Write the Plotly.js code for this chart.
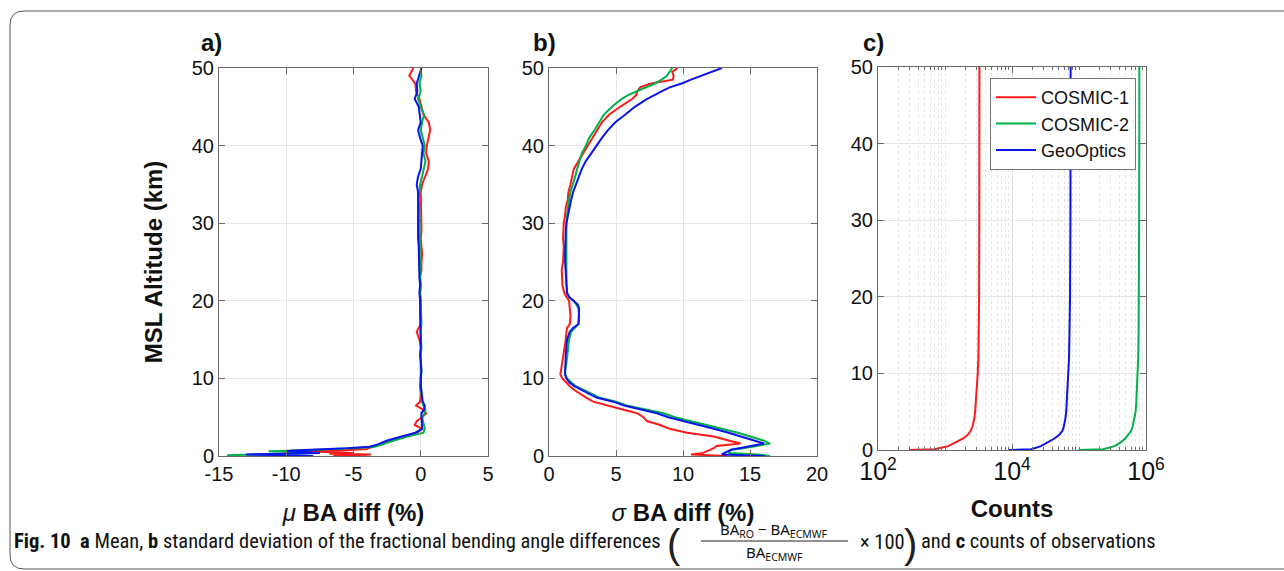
<!DOCTYPE html>
<html>
<head>
<meta charset="utf-8">
<script src="https://cdn.plot.ly/plotly-3.0.1.min.js"></script>
<style>html,body{margin:0;padding:0;background:#fff;}#chart{width:1284px;height:571px;}</style>
</head>
<body>
<div id="chart"></div>
<script>
// ---------- Panel a: mean fractional BA difference (%) ----------
const altA = [0,0.1,0.2,0.3,0.4,0.5,0.6,0.7,0.8,0.9,1.0,1.2,1.5,2,2.5,3,3.5,4,4.5,5,5.5,6,6.5,7,8,9,10,
  11,12,13,14,15,16,17,18,19,20,21,22,23,24,25,26,27,28,29,30,31,32,33,34,35,36,37,38,39,40,41,42,43,44,45,46,47,48,49,50];
const meanC1 = [-4.0,-6.5,-3.7,-6.8,-5.0,-7.8,-8.5,-6.0,-4.5,-4.0,-3.9,-3.5,-3.0,-2.3,-1.2,-0.3,0.1,-0.45,-0.3,0.1,0.4,0.15,-0.35,-0.05,0.0,-0.05,0.0,
  0.0,-0.05,0.0,0.02,-0.1,-0.3,0.0,-0.05,0.0,0.0,-0.05,0.0,-0.05,0.05,0.05,0.1,0.05,0.0,0.05,0.05,0.05,0.0,0.05,0.0,0.1,0.3,0.55,0.6,0.4,0.45,0.55,0.7,0.6,0.2,0.05,-0.1,-0.35,-0.4,-0.85,-0.55];
const meanC2 = [-13.0,-14.4,-12.0,-10.0,-8.0,-9.5,-11.3,-9.0,-7.5,-6.0,-5.0,-3.4,-2.9,-2.0,-1.0,0.2,0.3,0.25,0.15,0.1,0.3,0.35,0.2,0.1,0.05,0.0,0.0,
  0.05,0.0,0.0,0.05,0.0,0.0,0.05,0.05,0.0,0.0,-0.05,0.0,-0.05,-0.05,-0.1,-0.05,-0.1,-0.1,-0.1,-0.1,-0.1,-0.1,-0.15,-0.1,-0.05,0.1,0.2,0.35,0.2,0.3,0.15,0.0,0.1,0.25,0.0,-0.2,0.0,-0.1,0.05,0.0];
const meanGO = [-8.0,-10.0,-13.0,-10.5,-7.5,-8.5,-10.0,-9.5,-8.0,-6.5,-5.5,-3.8,-3.2,-2.5,-1.5,-0.4,0.1,0.1,0.05,0.1,0.05,0.25,0.3,0.15,0.05,0.0,0.0,
  0.05,0.0,-0.05,0.0,0.0,-0.05,-0.05,0.0,-0.05,-0.05,-0.1,-0.05,-0.1,-0.1,-0.15,-0.1,-0.15,-0.2,-0.2,-0.25,-0.2,-0.2,-0.25,-0.2,-0.3,-0.2,0.0,0.05,0.15,0.15,-0.05,-0.2,0.0,-0.1,-0.15,-0.45,-0.25,-0.3,-0.15,0.05];

// ---------- Panel b: standard deviation (%) ----------
const altB = [0,0.2,0.4,0.6,0.8,1.0,1.3,1.6,2,2.5,3,3.5,4,4.5,5,5.5,6,6.5,7,7.5,8,8.5,9,9.5,10,10.5,
  11,12,13,14,15,16,16.5,17,18,19,19.5,20,20.5,21,22,23,24,25,26,27,28,29,30,31,32,33,34,35,36,37,38,39,40,41,42,43,44,45,46,46.5,47,47.5,48,48.5,49,49.5,50];
const sdC1 = [13.3,10.6,11.5,11.8,12.0,12.3,12.5,14.3,13.4,12.3,10.3,9.0,8.3,7.3,7.05,6.6,5.5,4.3,3.3,2.8,2.3,1.9,1.55,1.25,1.0,0.85,
  0.9,1.0,1.1,1.2,1.25,1.3,1.35,1.55,1.6,1.55,1.55,1.5,1.3,1.15,1.0,1.0,0.95,1.05,1.1,1.1,1.05,1.05,1.1,1.2,1.25,1.4,1.45,1.6,1.7,1.85,2.2,2.55,2.85,3.2,3.55,3.95,4.5,5.3,6.2,6.5,6.6,6.8,7.6,9.25,9.3,9.2,9.6];
const sdC2 = [16.5,15.6,13.4,13.5,13.6,14.5,15.6,16.5,16.0,15.1,14.1,12.9,11.8,10.5,9.4,8.55,7.2,5.8,5.0,3.8,3.2,2.6,2.0,1.65,1.35,1.2,
  1.2,1.3,1.35,1.4,1.5,1.65,1.9,2.2,2.25,2.2,2.05,1.85,1.5,1.35,1.3,1.3,1.3,1.3,1.25,1.25,1.25,1.3,1.3,1.35,1.4,1.5,1.6,1.8,1.95,2.1,2.3,2.45,2.75,3.0,3.4,3.75,4.1,4.7,5.4,5.9,6.6,7.2,7.9,8.4,8.8,9.0,9.2];
const sdGO = [16.1,12.9,13.1,13.3,13.6,14.2,15.0,16.05,15.3,14.4,13.4,12.3,11.1,10.0,8.9,8.05,6.9,5.6,4.8,3.6,3.0,2.4,1.9,1.5,1.3,1.2,
  1.2,1.2,1.25,1.3,1.35,1.55,1.8,2.2,2.25,2.25,2.15,1.85,1.5,1.35,1.3,1.25,1.2,1.2,1.2,1.2,1.2,1.25,1.3,1.4,1.5,1.65,1.8,2.0,2.2,2.45,2.75,3.15,3.5,3.95,4.4,4.95,5.7,6.4,7.3,7.8,8.4,9.0,9.9,10.6,11.4,12.1,12.9];

// ---------- Panel c: counts ----------
const altC = [0,0.1,0.5,1,1.5,2,2.5,3,3.5,4,5,6,7,8,10,12,15,20,30,40,50];
const cntC1 = [290,700,1120,1450,1870,2200,2420,2560,2650,2720,2820,2880,2930,2980,3080,3150,3200,3230,3250,3250,3260];
const cntC2 = [98000,230000,340000,420000,490000,550000,600000,630000,650000,670000,700000,715000,725000,735000,752000,765000,775000,785000,790000,794000,795000];
const cntGO = [9000,19500,27000,35000,43000,51000,56500,59000,61000,62500,64500,65500,66500,67500,69500,71000,72000,73500,74500,75000,75000];

const seriesNames = ['COSMIC-1','COSMIC-2','GeoOptics'];
const seriesColors = ['#ff1a1a','#00b04a','#0a14e6'];
const ticksA = [-15,-10,-5,0,5];
const ticksALabels = ['-15','-10','-5','0','5'];
const ticksB = [0,5,10,15,20];
const ticksAlt = [0,10,20,30,40,50];

const W = 1284, H = 571;
const px = x => x / W;
const py = y => 1 - y / H;

const SANS = "'Liberation Sans', Arial, Helvetica, sans-serif";
const CAP = "'Roboto Condensed', 'Liberation Sans Narrow', 'Open Sans', sans-serif";
const tickFont = {family: SANS, size: 20, color: '#111'};
const titleFont = {family: SANS, size: 24, color: '#111'};
const capFont = {family: CAP, size: 20.5, color: '#111'};
const fracFont = {family: "'Noto Sans', 'Open Sans', sans-serif", size: 15, color: '#111'};
const parenFont = {family: SANS, size: 40, color: '#222'};

function baseAxis(extra) {
  return Object.assign({
    showline: true, mirror: 'ticks', linecolor: '#6a6a6a', linewidth: 1,
    ticks: 'inside', ticklen: 6, tickcolor: '#6a6a6a', tickwidth: 1,
    showgrid: true, gridcolor: '#e6e6e6', gridwidth: 1, zeroline: false,
    tickfont: tickFont, fixedrange: true
  }, extra);
}

const traces = [];
const panelA = [meanC1, meanC2, meanGO];
const panelB = [sdC1, sdC2, sdGO];
const panelC = [cntC1, cntC2, cntGO];
for (let i = 0; i < 3; i++) {
  traces.push({x: panelA[i], y: altA, xaxis: 'x', yaxis: 'y', type: 'scatter', mode: 'lines',
    line: {color: seriesColors[i], width: 2}, name: seriesNames[i], showlegend: false, hoverinfo: 'skip'});
}
for (let i = 0; i < 3; i++) {
  traces.push({x: panelB[i], y: altB, xaxis: 'x2', yaxis: 'y2', type: 'scatter', mode: 'lines',
    line: {color: seriesColors[i], width: 2}, name: seriesNames[i], showlegend: false, hoverinfo: 'skip'});
}
for (let i = 0; i < 3; i++) {
  traces.push({x: panelC[i], y: altC, xaxis: 'x3', yaxis: 'y3', type: 'scatter', mode: 'lines',
    line: {color: seriesColors[i], width: 2}, name: seriesNames[i], showlegend: true, hoverinfo: 'skip'});
}

function ann(text, x, y, xanchor, font) {
  return {text: text, x: px(x), y: py(y), xref: 'paper', yref: 'paper', xanchor: xanchor, yanchor: 'middle', showarrow: false, font: font};
}

const yDom = [py(456), py(68)];
const layout = {
  width: W, height: H,
  margin: {l: 0, r: 0, t: 0, b: 0},
  paper_bgcolor: '#fff', plot_bgcolor: '#fff',
  showlegend: true,
  xaxis: baseAxis({domain: [px(219), px(488)], range: [-15, 5], tickmode: 'array', tickvals: ticksA, ticktext: ticksALabels, anchor: 'y',
    title: {text: '<i>μ</i> <b>BA diff (%)</b>', font: titleFont, standoff: 20}}),
  yaxis: baseAxis({domain: yDom, range: [0, 50], tickmode: 'array', tickvals: ticksAlt, anchor: 'x',
    title: {text: '<b>MSL Altitude (km)</b>', font: titleFont, standoff: 22}}),
  xaxis2: baseAxis({domain: [px(549), px(817)], range: [0, 20], tickmode: 'array', tickvals: ticksB, anchor: 'y2',
    title: {text: '<i>σ</i> <b>BA diff (%)</b>', font: titleFont, standoff: 20}}),
  yaxis2: baseAxis({domain: yDom, range: [0, 50], tickmode: 'array', tickvals: ticksAlt, anchor: 'x2'}),
  xaxis3: baseAxis({domain: [px(878), px(1146)], type: 'log', range: [2, 6], dtick: 2, tick0: 0, exponentformat: 'power', anchor: 'y3',
    gridcolor: '#e2e2e2',
    minor: {dtick: 'D1', showgrid: true, gridcolor: '#e6e6e6', griddash: 'dot', gridwidth: 1, ticks: 'inside', ticklen: 3, tickcolor: '#6a6a6a'},
    title: {text: '<b>Counts</b>', font: titleFont, standoff: 16}}),
  yaxis3: baseAxis({domain: [py(450), py(67)], range: [0, 50], tickmode: 'array', tickvals: ticksAlt, anchor: 'x3'}),
  legend: {x: px(1136), xanchor: 'right', y: py(78), yanchor: 'top', bgcolor: '#fff', bordercolor: '#777', borderwidth: 1,
    font: {family: SANS, size: 18, color: '#111'}, tracegroupgap: 0, itemwidth: 40},
  annotations: [
    ann('<b>a)</b>', 211, 43, 'center', titleFont),
    ann('<b>b)</b>', 544, 43, 'center', titleFont),
    ann('<b>c)</b>', 873, 43, 'center', titleFont),
    ann('<b>Fig. 10</b>  <b>a</b> Mean, <b>b</b> standard deviation of the fractional bending angle differences', 12, 541, 'left', capFont),
    ann('(', 674, 544, 'center', parenFont),
    ann('BA<sub>RO</sub> − BA<sub>ECMWF</sub>', 774, 530, 'center', fracFont),
    ann('BA<sub>ECMWF</sub>', 774, 553, 'center', fracFont),
    ann('× 100', 858, 542, 'left', capFont),
    ann(')', 910, 544, 'center', parenFont),
    ann('and <b>c</b> counts of observations', 919, 541, 'left', capFont)
  ],
  shapes: [
    {type: 'path', xref: 'paper', yref: 'paper', line: {color: '#555', width: 1},
      path: `M ${px(1284)} ${py(11)} L ${px(24)} ${py(11)} Q ${px(10)} ${py(11)} ${px(10)} ${py(25)} L ${px(10)} ${py(555)} Q ${px(10)} ${py(569)} ${px(24)} ${py(569)} L ${px(1284)} ${py(569)}`},
    {type: 'line', xref: 'paper', yref: 'paper', x0: px(701), x1: px(848), y0: py(541), y1: py(541), line: {color: '#222', width: 1}}
  ]
};

Plotly.newPlot('chart', traces, layout, {displayModeBar: false, staticPlot: true});
</script>
</body>
</html>
